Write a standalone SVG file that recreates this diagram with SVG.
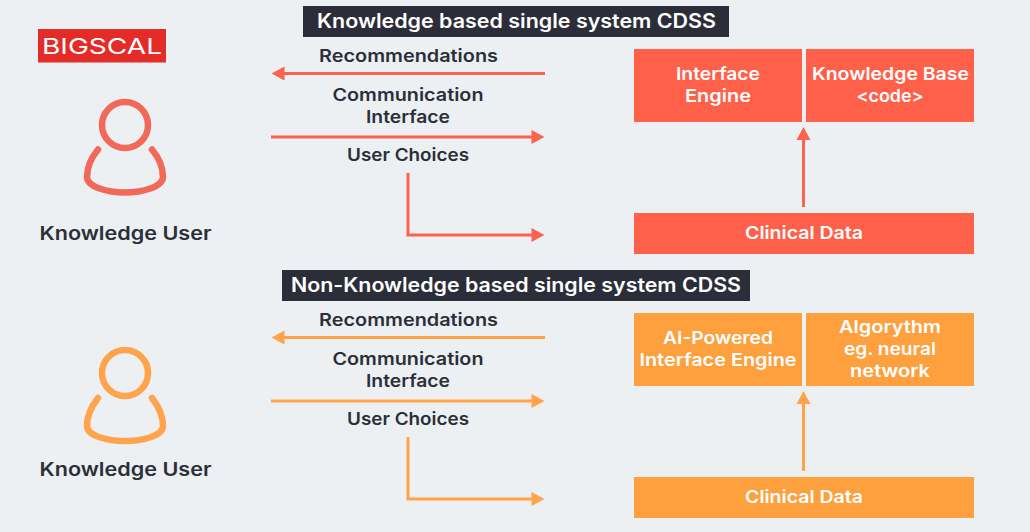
<svg xmlns="http://www.w3.org/2000/svg" width="1030" height="532" viewBox="0 0 1030 532">
<style>
text{font-family:Inter,"Liberation Sans",sans-serif;font-weight:600;text-anchor:middle}
.d{fill:#2b2f38;font-size:17.500px}
.w{fill:#fff;font-size:17.500px}
.t{fill:#fff;font-size:19.500px;font-weight:600}
.r{fill:#ff6049}
.o{fill:#ffa03f}
.lr{fill:none;stroke:#fa6350;stroke-width:3}
.lo{fill:none;stroke:#ffa24a;stroke-width:3}
.ur{fill:none;stroke:#f2695a;stroke-width:6.500;stroke-linecap:round}
.uo{fill:none;stroke:#ffa34d;stroke-width:6.500;stroke-linecap:round}
</style>
<defs>
<path id="ar" d="M0 0L-13 -7V7Z"/>
</defs>
<rect width="1030" height="532" fill="#ecf0f3"/>
<g id="logo">
<rect x="38" y="29" width="128" height="33.500" fill="#e32b27"/>
<text x="102" y="54" textLength="120" lengthAdjust="spacingAndGlyphs" style="font-size:22px;fill:#fff;font-weight:400">BIGSCAL</text>
</g>
<g id="title-1"><rect x="303" y="6" width="426" height="31" fill="#2b2d38"/><text class="t" x="516.500" y="28" textLength="399" lengthAdjust="spacingAndGlyphs">Knowledge based single system CDSS</text></g>
<g id="title-2"><rect x="282" y="270" width="468" height="31" fill="#2b2d38"/><text class="t" x="516" y="292" textLength="450" lengthAdjust="spacingAndGlyphs">Non-Knowledge based single system CDSS</text></g>
<g id="user-1">
<circle cx="125" cy="125" r="23" class="ur"/>
<path class="ur" d="M98 149.500C91 158 87 168 87 177C87 187 108 192.500 125 192.500C142 192.500 163 187 163 177C163 168 159 158 152 149.500"/>
<text class="d" x="125.500" y="240" style="font-size:18.500px" textLength="172" lengthAdjust="spacingAndGlyphs">Knowledge User</text>
</g>
<g id="user-2">
<circle cx="125" cy="373" r="23" class="uo"/>
<path class="uo" d="M98 398C91 407 87 417 87 426C87 436 108 441 125 441C142 441 163 436 163 426C163 417 159 407 152 398"/>
<text class="d" x="125.500" y="476" style="font-size:18.500px" textLength="172" lengthAdjust="spacingAndGlyphs">Knowledge User</text>
</g>
<g id="labels-1">
<text class="d" x="408.500" y="62" textLength="179" lengthAdjust="spacingAndGlyphs">Recommendations</text>
<text class="d" x="408" y="101" textLength="151" lengthAdjust="spacingAndGlyphs">Communication</text>
<text class="d" x="408" y="122.500" textLength="84" lengthAdjust="spacingAndGlyphs">Interface</text>
<text class="d" x="408" y="161" textLength="122" lengthAdjust="spacingAndGlyphs">User Choices</text>
</g>
<g id="labels-2">
<text class="d" x="408.500" y="326" textLength="179" lengthAdjust="spacingAndGlyphs">Recommendations</text>
<text class="d" x="408" y="365" textLength="151" lengthAdjust="spacingAndGlyphs">Communication</text>
<text class="d" x="408" y="386.500" textLength="84" lengthAdjust="spacingAndGlyphs">Interface</text>
<text class="d" x="408" y="425" textLength="122" lengthAdjust="spacingAndGlyphs">User Choices</text>
</g>
<g id="interface-engine"><rect class="r" x="634" y="49" width="168" height="73"/><text class="w" x="718" y="80" textLength="84" lengthAdjust="spacingAndGlyphs">Interface</text><text class="w" x="718" y="102" textLength="66" lengthAdjust="spacingAndGlyphs">Engine</text></g>
<g id="knowledge-base"><rect class="r" x="806" y="49" width="168" height="73"/><text class="w" x="890.500" y="80" textLength="157" lengthAdjust="spacingAndGlyphs">Knowledge Base</text><text class="w" x="890" y="102" textLength="67" lengthAdjust="spacingAndGlyphs">&lt;code&gt;</text></g>
<g id="clinical-data-1"><rect class="r" x="634" y="213" width="340" height="41"/><text class="w" x="804" y="239" textLength="118" lengthAdjust="spacingAndGlyphs">Clinical Data</text></g>
<g id="ai-engine"><rect class="o" x="634" y="313" width="168" height="73"/><text class="w" x="718" y="344" textLength="110" lengthAdjust="spacingAndGlyphs">AI-Powered</text><text class="w" x="718" y="366" textLength="157" lengthAdjust="spacingAndGlyphs">Interface Engine</text></g>
<g id="algorithm"><rect class="o" x="806" y="313" width="168" height="73"/><text class="w" x="890" y="333" textLength="102" lengthAdjust="spacingAndGlyphs">Algorythm</text><text class="w" x="890" y="355" textLength="92" lengthAdjust="spacingAndGlyphs">eg. neural</text><text class="w" x="890" y="376.500" textLength="80" lengthAdjust="spacingAndGlyphs">network</text></g>
<g id="clinical-data-2"><rect class="o" x="634" y="477" width="340" height="41"/><text class="w" x="804" y="503" textLength="118" lengthAdjust="spacingAndGlyphs">Clinical Data</text></g>
<g id="connectors">
<g fill="#fa6350">
<path class="lr" d="M545 73.500H280"/><use href="#ar" transform="translate(271.500 73.500) rotate(180)"/>
<path class="lr" d="M271 137H535"/><use href="#ar" transform="translate(544.500 137)"/>
<path class="lr" d="M408 173V235H535"/><use href="#ar" transform="translate(544.500 235)"/>
<path class="lr" d="M803.500 207V138"/><use href="#ar" transform="translate(803.500 127) rotate(-90)"/>
</g>
<g fill="#ffa24a">
<path class="lo" d="M545 337.500H280"/><use href="#ar" transform="translate(271.500 337.500) rotate(180)"/>
<path class="lo" d="M271 401H535"/><use href="#ar" transform="translate(544.500 401)"/>
<path class="lo" d="M408 437V499H535"/><use href="#ar" transform="translate(544.500 499)"/>
<path class="lo" d="M803.500 471V402"/><use href="#ar" transform="translate(803.500 391) rotate(-90)"/>
</g>
</g>
</svg>
